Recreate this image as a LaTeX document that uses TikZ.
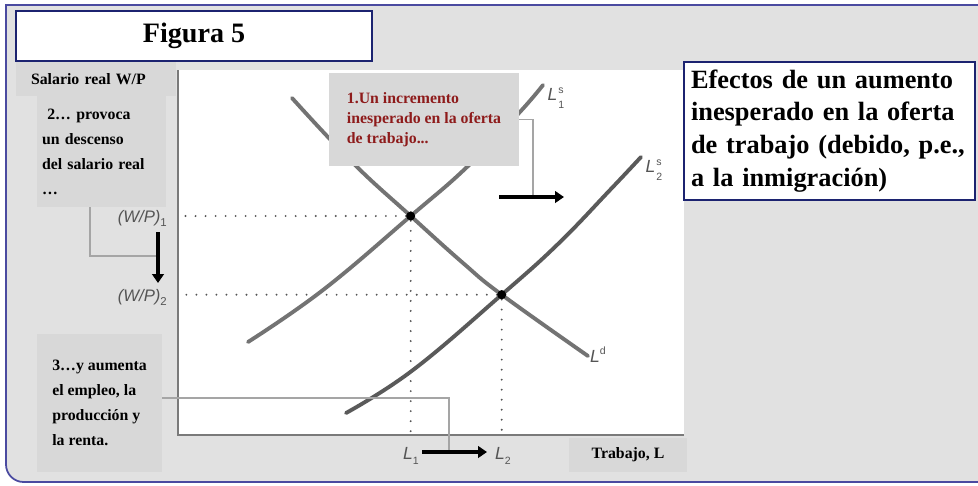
\documentclass[tikz,border=0pt]{standalone}
\usepackage{fontspec}
\setmainfont{Liberation Serif}
\setsansfont{Liberation Sans}
\usetikzlibrary{arrows.meta,positioning,calc}
\definecolor{bggrey}{HTML}{E1E1E1}
\definecolor{boxgrey}{HTML}{D8D8D8}
\definecolor{frameblue}{HTML}{4A4AA0}
\definecolor{navy}{HTML}{1C2370}
\definecolor{wine}{HTML}{8E1B1B}
\definecolor{curve}{HTML}{737373}
\definecolor{curvedark}{HTML}{5A5A5A}
\definecolor{axisgrey}{HTML}{7A7A7A}
\definecolor{linkgrey}{HTML}{A5A5A5}
\definecolor{labgrey}{HTML}{555555}
\newcommand{\stacklab}[3]{\textit{#1}\kern0.6pt\raisebox{-0.9ex}{\fontsize{6}{6.5}\selectfont\shortstack[l]{#2\\[1.5pt]#3}}}

\begin{document}
\begin{tikzpicture}[x=0.02cm,y=-0.02cm,
  greybox/.style={fill=boxgrey,inner sep=0pt,font=\bfseries\fontsize{9}{14.2}\selectfont},
  bluebox/.style={draw=navy,line width=0.8pt,fill=white,inner sep=0pt},
  curv/.style={curve,line width=2.2pt,line cap=round},
  dots/.style={labgrey,line width=1.2pt,line cap=round,dash pattern=on 0pt off 5.7pt},
  link/.style={linkgrey,line width=0.8pt},
  push/.style={line width=2.4pt,-{Triangle[length=5pt,width=6.5pt]}},
  eq/.style={circle,fill=black,minimum size=0.18cm,inner sep=0pt},
  axlab/.style={labgrey,font=\sffamily\fontsize{10}{12}\selectfont}]
\useasboundingbox (0,0) rectangle (978,485);
\clip (0,0) rectangle (978,485);

% background frame and plot area
\draw[frameblue,line width=1pt,fill=bggrey] (1000,5) -- (6,5) [rounded corners=10pt] -- (6,482) -- (1000,482);
\fill[white] (178,70) rectangle (684,435);
\coordinate (ytop) at (178,70);
\coordinate (o) at (178,435);
\coordinate (xend) at (684,435);
\draw[axisgrey,line width=0.9pt] (ytop) -- (o) -- (xend);

% equilibria
\node[eq] (e1) at (410.7,216) {};
\node[eq] (e2) at (501.7,294.7) {};
\draw[dots] (e1) -- (e1 -| o);
\draw[dots] (e2) -- (e2 -| o);
\draw[dots] (e1) -- (e1 |- o);
\draw[dots] (e2) -- (e2 |- o);

% demand and supply curves
\draw[curv] plot[smooth,tension=0.7] coordinates {(292,98) (353,163) (410.7,216) (463,263) (501.7,294.7) (588,356)};
\draw[curv] plot[smooth,tension=0.7] coordinates {(248,342) (323,290) (410.7,216) (467,167) (519,113) (543,85)};
\draw[curv,curvedark] plot[smooth,tension=0.7] coordinates {(346,413) (413,370) (501.7,294.7) (558,244) (610,190) (641,157)};
\node[eq] at (e1) {};
\node[eq] at (e2) {};

% boxes
\node[bluebox,minimum width=7.12cm,minimum height=1cm,font=\bfseries\fontsize{16}{19}\selectfont] (title) at (194,36) {Figura 5};
\node[greybox,minimum width=3.2cm,minimum height=0.68cm,text width=2.6cm,inner xsep=0.3cm,align=left] (wlab) at (96,79) {Salario real W/P};
\node[greybox,minimum width=2.58cm,minimum height=2.22cm,text width=2.38cm,inner xsep=0.1cm,align=left] (b2) at (101.5,151.5) {\hspace*{3pt}2… provoca\\ un descenso\\ del salario real\\ …};
\node[greybox,minimum width=2.5cm,minimum height=2.76cm,align=left] (b3) at (99.5,403) {3…y aumenta\\ el empleo, la\\ producción y\\ la renta.};
\node[greybox,minimum width=3.8cm,minimum height=1.86cm,align=left,text=wine,font=\bfseries\fontsize{9}{11.3}\selectfont] (b1) at (424,119.5) {1.Un incremento\\ inesperado en la oferta\\ de trabajo...};
\node[greybox,minimum width=2.36cm,minimum height=0.68cm] (xlab) at (628,455) {Trabajo, L};
\node[bluebox,minimum width=5.82cm,minimum height=2.76cm,text width=5.54cm,inner xsep=0.14cm,align=left,font=\bfseries\fontsize{15}{18.7}\selectfont] (note) at (829.5,131) {Efectos de un aumento\\ inesperado en la oferta\\ de trabajo (debido, p.e.,\\ a la inmigración)};

% shift arrows
\coordinate (wpa) at (158,232);
\coordinate (wpb) at (158,283);
\coordinate (wpmid) at (158,256);
\coordinate (sa) at (499,197);
\coordinate (sb) at (564,197);
\coordinate (smid) at (533,197);
\coordinate (la) at (422,452);
\coordinate (lb) at (487,452);
\coordinate (lmid) at (449,452);
\draw[link] ([xshift=-0.23cm]b2.south) |- (wpmid);
\draw[link] (b1.east) -| (smid);
\draw[link] ([yshift=0.1cm]b3.east) -| (lmid);
\draw[push] (wpa) -- (wpb);
\draw[push] (sa) -- (sb);
\draw[push] (la) -- (lb);

% axis labels
\node[axlab,anchor=east,font=\sffamily\fontsize{9.5}{11}\selectfont] (wp1) at (173,218) {\textit{(W/P)}\raisebox{-0.45ex}{\fontsize{6.5}{7}\selectfont 1}};
\node[axlab,anchor=east,font=\sffamily\fontsize{9.5}{11}\selectfont] (wp2) at (173,297) {\textit{(W/P)}\raisebox{-0.45ex}{\fontsize{6.5}{7}\selectfont 2}};
\node[axlab] (l1) at (411,456) {\textit{L}\raisebox{-0.45ex}{\fontsize{6}{6}\selectfont 1}};
\node[axlab] (l2) at (503,456) {\textit{L}\raisebox{-0.45ex}{\fontsize{6}{6}\selectfont 2}};
\node[axlab] (ls1) at (556,98) {\stacklab{L}{s}{1}};
\node[axlab] (ls2) at (654,170) {\stacklab{L}{s}{2}};
\node[axlab] (ld) at (598,355) {\textit{L}\raisebox{0.85ex}{\fontsize{6}{6}\selectfont d}};
\end{tikzpicture}
\end{document}
